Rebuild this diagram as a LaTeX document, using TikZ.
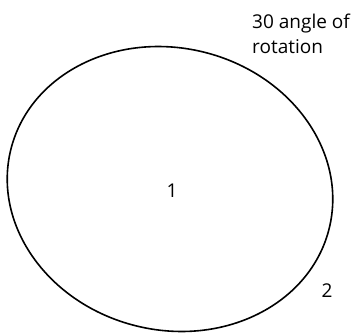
\documentclass[tikz,border=0pt]{standalone}
\usepackage{fontspec}
\setmainfont{Open Sans}
\tikzset{
  lbl/.style={inner sep=0pt, font=\fontsize{19}{25}\selectfont},
  outline/.style={draw=black, line width=1.6pt}
}
\begin{document}
\begin{tikzpicture}[x=1pt,y=-1pt]
\useasboundingbox (0,0) rectangle (353,332);
\draw[outline] (170,189) ellipse[x radius=164, y radius=141, rotate=-14];
\node[lbl, anchor=base west] (t1) at (252,28) {30 angle of};
\node[lbl, anchor=base west] (t2) at (252,53) {rotation};
\node[lbl, anchor=base] (n1) at (172,197) {1};
\node[lbl, anchor=base] (n2) at (327,297) {2};
\end{tikzpicture}
\end{document}
